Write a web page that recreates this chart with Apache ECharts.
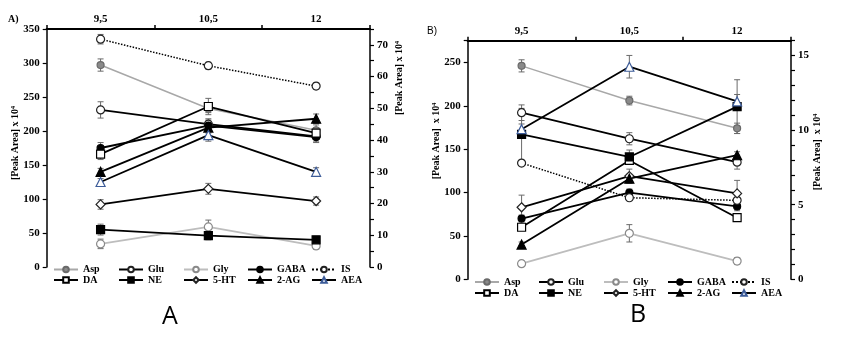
<!DOCTYPE html>
<html><head><meta charset="utf-8">
<script src="https://cdn.jsdelivr.net/npm/echarts@6/dist/echarts.min.js"></script>
<style>html,body{margin:0;padding:0;background:#fff}#c{width:850px;height:337px}</style>
</head><body><div id="c"></div><script>
// ---- data ----
const categories = ['9,5', '10,5', '12'];
const seriesNames = ['Asp', 'Glu', 'Gly', 'GABA', 'IS', 'DA', 'NE', '5-HT', '2-AG', 'AEA'];

// Panel A values ([Peak Area] x 10^4, left-axis units)
const aAsp  = [297, 233, 201];
const aGlu  = [231, 210, 192];
const aGly  = [34, 59, 31];
const aGABA = [175, 208, 191];
const aIS   = [335, 296, 266];
const aDA   = [166, 236, 197];
const aNE   = [55, 46, 40];
const a5HT  = [92, 115, 97];
const a2AG  = [140, 205, 218];
const aAEA  = [125, 194, 140];
// Panel A error bars
const aAspErr  = [9, 6, 8];
const aGluErr  = [12, 8, 8];
const aGlyErr  = [7, 10, 5];
const aGABAErr = [8, 8, 8];
const aISErr   = [7, 5, 5];
const aDAErr   = [8, 12, 8];
const aNEErr   = [8, 6, 5];
const a5HTErr  = [7, 8, 6];
const a2AGErr  = [5, 8, 7];
const aAEAErr  = [5, 9, 6];

// Panel B values
const bAsp  = [246, 206, 174];
const bGlu  = [192, 162, 135];
const bGly  = [18, 53, 21];
const bGABA = [70, 100, 84];
const bIS   = [134, 94, 91];
const bDA   = [60, 137, 71];
const bNE   = [167, 141, 199];
const b5HT  = [83, 119, 99];
const b2AG  = [40, 116, 143];
const bAEA  = [173, 245, 205];
// Panel B error bars
const bAspErr  = [7, 5, 6];
const bGluErr  = [9, 7, 8];
const bGlyErr  = [3, 10, 4];
const bGABAErr = [4, 4, 5];
const bISErr   = [2, 3, 3];
const bDAErr   = [3, 4, 3];
const bNEErr   = [30, 8, 31];
const b5HTErr  = [14, 8, 15];
const b2AGErr  = [3, 5, 4];
const bAEAErr  = [6, 13, 8];

// axis ticks
const aLeftTicks = {min: 0, max: 350, interval: 50};
const aRightTicks = {min: 0, max: 75, interval: 5, labelEvery: 10};
const bLeftTicks = {min: 0, max: 275, interval: 50};
const bRightTicks = {min: 0, max: 16, interval: 1, labelEvery: 5};

// ---- styles ----
const SERIF = '"Liberation Serif", "Times New Roman", serif';
const styles = {
  'Asp':  {symbol: 'circle',   fill: '#8a8a8a', border: '#6a6a6a', line: '#a8a8a8', width: 1.5, type: 'solid', size: 7},
  'Glu':  {symbol: 'circle',   fill: '#ffffff', border: '#222',    line: '#000',    width: 1.8, type: 'solid', size: 8},
  'Gly':  {symbol: 'circle',   fill: '#ffffff', border: '#8a8a8a', line: '#bdbdbd', width: 1.8, type: 'solid', size: 8},
  'GABA': {symbol: 'circle',   fill: '#000',    border: '#000',    line: '#000',    width: 1.8, type: 'solid', size: 7},
  'IS':   {symbol: 'circle',   fill: '#ffffff', border: '#222',    line: '#000',    width: 1.5, type: 'dotted', size: 8},
  'DA':   {symbol: 'rect',     fill: '#ffffff', border: '#000',    line: '#000',    width: 1.8, type: 'solid', size: 8},
  'NE':   {symbol: 'rect',     fill: '#000',    border: '#000',    line: '#000',    width: 1.8, type: 'solid', size: 8},
  '5-HT': {symbol: 'diamond',  fill: '#ffffff', border: '#222',    line: '#000',    width: 1.8, type: 'solid', size: 9},
  '2-AG': {symbol: 'triangle', fill: '#000',    border: '#000',    line: '#000',    width: 1.8, type: 'solid', size: 9},
  'AEA':  {symbol: 'triangle', fill: '#ffffff', border: '#3d5c99', line: '#000',    width: 1.8, type: 'solid', size: 9}
};

const panelA = {vals: [aAsp, aGlu, aGly, aGABA, aIS, aDA, aNE, a5HT, a2AG, aAEA],
  errs: [aAspErr, aGluErr, aGlyErr, aGABAErr, aISErr, aDAErr, aNEErr, a5HTErr, a2AGErr, aAEAErr]};
const panelB = {vals: [bAsp, bGlu, bGly, bGABA, bIS, bDA, bNE, b5HT, b2AG, bAEA],
  errs: [bAspErr, bGluErr, bGlyErr, bGABAErr, bISErr, bDAErr, bNEErr, b5HTErr, b2AGErr, bAEAErr]};

function lineSeries(panel, gi, yi) {
  return seriesNames.map((n, k) => {
    const s = styles[n];
    return {
      name: n, type: 'line', xAxisIndex: gi, yAxisIndex: yi, data: panel.vals[k],
      symbol: s.symbol, symbolSize: s.size, showAllSymbol: true, z: 3,
      itemStyle: {color: s.fill, borderColor: s.border, borderWidth: 1.2},
      lineStyle: {color: s.line, width: s.width, type: s.type},
      emphasis: {disabled: true}, animation: false
    };
  });
}
function errSeries(panel, gi, yi) {
  const data = [];
  panel.vals.forEach((arr, k) => arr.forEach((v, i) => data.push([i, v, panel.errs[k][i]])));
  return {
    type: 'custom', xAxisIndex: gi, yAxisIndex: yi, z: 2, silent: true, animation: false,
    encode: {x: 0, y: 1}, data: data,
    renderItem: function (params, api) {
      const x = api.value(0), y = api.value(1), e = api.value(2);
      const t = api.coord([x, y + e]), b = api.coord([x, y - e]);
      const w = 3;
      const st = {stroke: '#6b6b6b', lineWidth: 1};
      return {type: 'group', children: [
        {type: 'line', shape: {x1: t[0], y1: t[1], x2: b[0], y2: b[1]}, style: st},
        {type: 'line', shape: {x1: t[0] - w, y1: t[1], x2: t[0] + w, y2: t[1]}, style: st},
        {type: 'line', shape: {x1: b[0] - w, y1: b[1], x2: b[0] + w, y2: b[1]}, style: st}
      ]};
    }
  };
}

const tickFont = {fontFamily: SERIF, fontWeight: 'bold', fontSize: 11, color: '#000'};
function xAxisDef(gi) {
  return {
    gridIndex: gi, type: 'category', position: 'top', data: categories, boundaryGap: true,
    axisLine: {onZero: false, lineStyle: {color: '#000', width: 2}},
    axisTick: {show: true, length: 4, lineStyle: {color: '#000', width: 1.5}},
    axisLabel: Object.assign({margin: 4}, tickFont),
    splitLine: {show: false}
  };
}
function yAxisDef(gi, t, pos) {
  return {
    gridIndex: gi, type: 'value', position: pos, min: t.min, max: t.max, interval: t.interval,
    axisLine: {show: true, onZero: false, lineStyle: {color: '#000', width: 1.5}},
    axisTick: {show: true, length: 4, lineStyle: {color: '#000', width: 1.2}},
    axisLabel: Object.assign({margin: 7, formatter: function (v) {
      const every = t.labelEvery || t.interval;
      return (Math.round(v) % every === 0) ? String(v) : '';
    }}, tickFont),
    splitLine: {show: false}
  };
}

const legendFont = {fontFamily: SERIF, fontWeight: 'bold', fontSize: 10, color: '#000', lineHeight: 10};
function legendCol(names, left, top, gap) {
  return {
    data: names, orient: 'vertical', left: left, top: top, itemWidth: 24, itemHeight: 7,
    itemGap: gap, selectedMode: false, padding: 0, textStyle: legendFont
  };
}
const cols = [['Asp', 'DA'], ['Glu', 'NE'], ['Gly', '5-HT'], ['GABA', '2-AG'], ['IS', 'AEA']];
const aColX = [53, 118, 183, 247, 311];
const bColX = [474, 538, 603, 667, 731];
const legends = [];
cols.forEach((c, i) => legends.push(legendCol(c, aColX[i], 264.5, 0.5)));
cols.forEach((c, i) => legends.push(legendCol(c, bColX[i], 277, 1)));

function vText(txt, x, y) {
  return {type: 'text', x: x, y: y, rotation: Math.PI / 2,
    style: {text: txt, fontFamily: SERIF, fontWeight: 'bold', fontSize: 10, fill: '#000', align: 'center', verticalAlign: 'middle'}};
}

const option = {
  backgroundColor: '#fff',
  animation: false,
  grid: [
    {left: 46.7, right: 480, top: 29, bottom: 70},
    {left: 467.7, right: 59, top: 40.7, bottom: 57.7}
  ],
  xAxis: [xAxisDef(0), xAxisDef(1)],
  yAxis: [
    yAxisDef(0, aLeftTicks, 'left'),
    yAxisDef(0, aRightTicks, 'right'),
    yAxisDef(1, bLeftTicks, 'left'),
    yAxisDef(1, bRightTicks, 'right')
  ],
  legend: legends,
  series: [].concat(
    [errSeries(panelA, 0, 0)], lineSeries(panelA, 0, 0),
    [errSeries(panelB, 1, 2)], lineSeries(panelB, 1, 2)
  ),
  graphic: [
    {type: 'text', x: 8, y: 14, style: {text: 'A)', fontFamily: SERIF, fontWeight: 'bold', fontSize: 10, fill: '#000'}},
    {type: 'text', x: 427, y: 26, style: {text: 'B)', fontFamily: '"Liberation Sans", Arial, sans-serif', fontSize: 10, fill: '#000'}},
    {type: 'text', x: 170, y: 317, style: {text: 'A', fontFamily: '"Open Sans", "Liberation Sans", sans-serif', fontSize: 25, fill: '#000', align: 'center', verticalAlign: 'middle'}},
    {type: 'text', x: 638, y: 315, style: {text: 'B', fontFamily: '"Open Sans", "Liberation Sans", sans-serif', fontSize: 25, fill: '#000', align: 'center', verticalAlign: 'middle'}},
    vText('[Peak Area] x 10⁴', 15, 143),
    vText('[Peak Area] x 10⁴', 399, 78),
    vText('[Peak Area]  x 10⁴', 436, 141),
    vText('[Peak Area]  x 10⁴', 817, 152)
  ]
};
const chart = echarts.init(document.getElementById('c'), null, {renderer: 'canvas'});
chart.setOption(option);
</script></body></html>
